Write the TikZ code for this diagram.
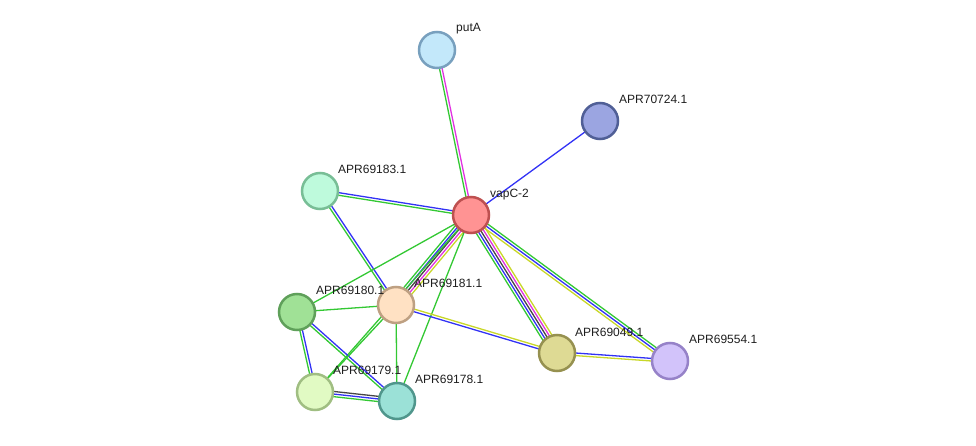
\documentclass[tikz,border=0pt]{standalone}
\usepackage{fontspec}
\setmainfont{Liberation Sans}
\usetikzlibrary{calc, backgrounds}
\definecolor{LinkGreen}{RGB}{51, 200, 51}
\definecolor{LinkBlue}{RGB}{50, 50, 245}
\definecolor{LinkMagenta}{RGB}{225, 50, 225}
\definecolor{LinkBlack}{RGB}{70, 70, 70}
\definecolor{LinkYellow}{RGB}{200, 215, 40}
\definecolor{LabelGray}{RGB}{30, 30, 30}
\definecolor{VapFill}{RGB}{255, 147, 147}
\definecolor{VapDraw}{RGB}{190, 80, 80}
\definecolor{PutFill}{RGB}{195, 232, 250}
\definecolor{PutDraw}{RGB}{120, 160, 190}
\definecolor{SevenFill}{RGB}{155, 165, 225}
\definecolor{SevenDraw}{RGB}{80, 95, 150}
\definecolor{EightThreeFill}{RGB}{190, 250, 220}
\definecolor{EightThreeDraw}{RGB}{120, 190, 150}
\definecolor{EightZeroFill}{RGB}{160, 225, 150}
\definecolor{EightZeroDraw}{RGB}{95, 160, 90}
\definecolor{EightOneFill}{RGB}{255, 225, 195}
\definecolor{EightOneDraw}{RGB}{190, 160, 130}
\definecolor{SevenNineFill}{RGB}{225, 250, 195}
\definecolor{SevenNineDraw}{RGB}{160, 190, 130}
\definecolor{SevenEightFill}{RGB}{155, 225, 215}
\definecolor{SevenEightDraw}{RGB}{80, 150, 140}
\definecolor{FourNineFill}{RGB}{222, 218, 148}
\definecolor{FourNineDraw}{RGB}{150, 145, 80}
\definecolor{FiveFourFill}{RGB}{210, 195, 250}
\definecolor{FiveFourDraw}{RGB}{150, 130, 200}

% parallel coloured lines between two proteins
\newcommand{\protlink}[3]{%
  \xdef\nlinks{0}%
  \foreach \c in {#3}{\pgfmathtruncatemacro\tmp{\nlinks+1}\global\let\nlinks\tmp}%
  \foreach \c [count=\i] in {#3}{%
    \pgfmathsetmacro\off{(\i-(\nlinks+1)/2)*2.6}%
    \draw[\c, edge] ($(#1)!\off pt!90:(#2)$) -- ($(#2)!\off pt!-90:(#1)$);
  }%
}

\begin{document}
\begin{tikzpicture}[
    x=1pt, y=-1pt,
    prot/.style={circle, line width=2.5pt, minimum size=36pt, inner sep=0pt},
    lbl/.style={anchor=base west, inner sep=0pt, text=LabelGray, font=\fontsize{12}{14}\selectfont},
    edge/.style={line width=1.3pt}
]
\useasboundingbox (0,0) rectangle (976,446);

\node[prot, fill=PutFill, draw=PutDraw] (puta) at (437,50) {};
\node[prot, fill=SevenFill, draw=SevenDraw] (apr70724) at (600,121) {};
\node[prot, fill=VapFill, draw=VapDraw] (vapc) at (471,215) {};
\node[prot, fill=EightThreeFill, draw=EightThreeDraw] (apr69183) at (320,191) {};
\node[prot, fill=EightZeroFill, draw=EightZeroDraw] (apr69180) at (297,312) {};
\node[prot, fill=EightOneFill, draw=EightOneDraw] (apr69181) at (396,305) {};
\node[prot, fill=SevenNineFill, draw=SevenNineDraw] (apr69179) at (315,392) {};
\node[prot, fill=SevenEightFill, draw=SevenEightDraw] (apr69178) at (397,401) {};
\node[prot, fill=FourNineFill, draw=FourNineDraw] (apr69049) at (557,353) {};
\node[prot, fill=FiveFourFill, draw=FiveFourDraw] (apr69554) at (670,361) {};

\node[lbl] (puta-l) at ($(puta)+(19,-18)$) {putA};
\node[lbl] (apr70724-l) at ($(apr70724)+(19,-17.5)$) {APR70724.1};
\node[lbl] (vapc-l) at ($(vapc)+(19,-17)$) {vapC-2};
\node[lbl] (apr69183-l) at ($(apr69183)+(18,-17.5)$) {APR69183.1};
\node[lbl] (apr69180-l) at ($(apr69180)+(19,-17.5)$) {APR69180.1};
\node[lbl] (apr69181-l) at ($(apr69181)+(18,-17.5)$) {APR69181.1};
\node[lbl] (apr69179-l) at ($(apr69179)+(18,-17.5)$) {APR69179.1};
\node[lbl] (apr69178-l) at ($(apr69178)+(18,-17.5)$) {APR69178.1};
\node[lbl] (apr69049-l) at ($(apr69049)+(18,-16.5)$) {APR69049.1};
\node[lbl] (apr69554-l) at ($(apr69554)+(19,-17.5)$) {APR69554.1};

\begin{scope}[on background layer]
\protlink{puta}{vapc}{LinkGreen,LinkMagenta}
\protlink{apr70724}{vapc}{LinkBlue}
\protlink{apr69183}{vapc}{LinkGreen,LinkBlue}
\protlink{apr69183}{apr69181}{LinkGreen,LinkBlue}
\protlink{vapc}{apr69180}{LinkGreen}
\protlink{vapc}{apr69181}{LinkGreen,LinkBlue,LinkBlack,LinkMagenta,LinkYellow}
\protlink{vapc}{apr69179}{LinkGreen}
\protlink{vapc}{apr69178}{LinkGreen}
\protlink{vapc}{apr69049}{LinkGreen,LinkBlue,LinkBlack,LinkMagenta,LinkYellow}
\protlink{vapc}{apr69554}{LinkYellow,LinkBlue,LinkGreen}
\protlink{apr69181}{apr69049}{LinkBlue,LinkYellow}
\protlink{apr69049}{apr69554}{LinkYellow,LinkBlue}
\protlink{apr69180}{apr69181}{LinkGreen}
\protlink{apr69180}{apr69179}{LinkGreen,LinkBlue}
\protlink{apr69180}{apr69178}{LinkGreen,LinkBlue}
\protlink{apr69181}{apr69179}{LinkGreen}
\protlink{apr69181}{apr69178}{LinkGreen}
\protlink{apr69179}{apr69178}{LinkGreen,LinkBlue,LinkBlack}
\end{scope}

\end{tikzpicture}
\end{document}
